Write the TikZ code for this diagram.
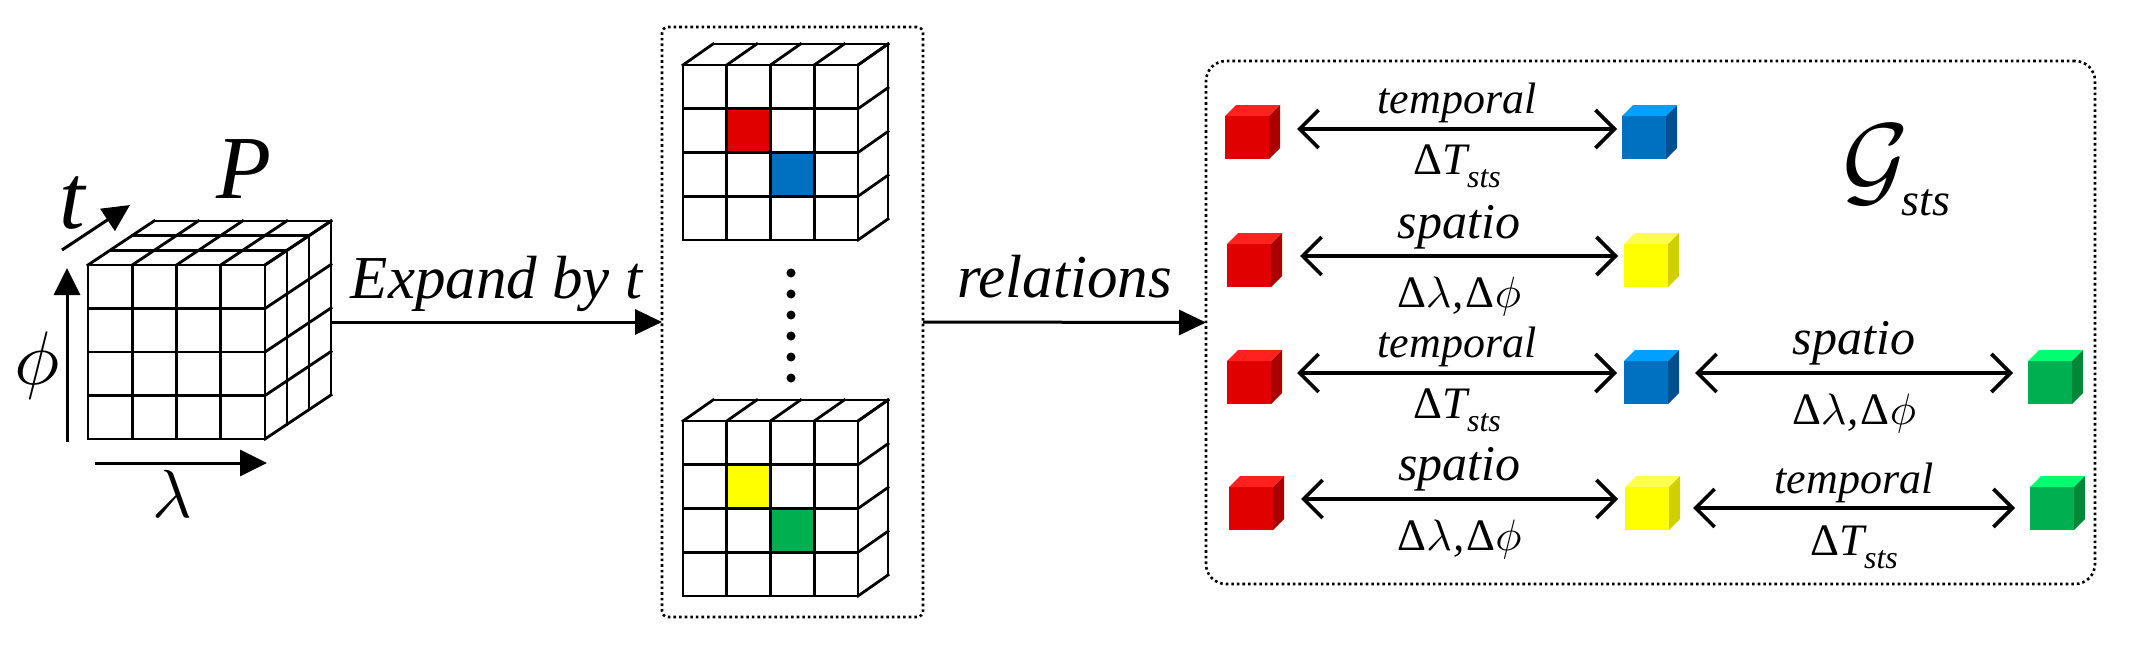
\documentclass[tikz,border=0pt]{standalone}
\usepackage{fontspec}
\setmainfont{Liberation Serif}
\usetikzlibrary{arrows.meta}

\definecolor{redF}{RGB}{224,0,0}
\definecolor{redT}{RGB}{255,32,32}
\definecolor{redS}{RGB}{170,0,0}
\definecolor{bluF}{RGB}{0,112,192}
\definecolor{bluT}{RGB}{0,160,255}
\definecolor{bluS}{RGB}{0,80,144}
\definecolor{yelF}{RGB}{255,255,0}
\definecolor{yelT}{RGB}{255,255,80}
\definecolor{yelS}{RGB}{208,208,0}
\definecolor{grnF}{RGB}{0,176,80}
\definecolor{grnT}{RGB}{0,255,112}
\definecolor{grnS}{RGB}{0,136,56}

\tikzset{
  gridline/.style={line width=2.8pt, line cap=rect},
  panel/.style={draw, line width=2.6pt, dash pattern=on 2.6pt off 3pt, inner sep=0, outer sep=0},
  cubenode/.style={inner sep=0, outer sep=0, minimum width=55pt, minimum height=54pt},
  axarr/.style={line width=3pt, -{Triangle[length=27pt,width=26pt]}},
  bigarr/.style={line width=3pt, -{Triangle[length=27pt,width=25pt]}},
  dbl/.style={line width=3.4pt, {Straight Barb[length=19pt,width=38pt,line width=3.6pt]}-{Straight Barb[length=19pt,width=38pt,line width=3.6pt]}},
  biglab/.style={font=\fontsize{61}{61}\selectfont\itshape, anchor=base, inner sep=0},
  tlab/.style={font=\fontsize{44}{44}\selectfont\itshape, anchor=base, inner sep=0},
  slab/.style={font=\fontsize{50}{50}\selectfont\itshape, anchor=base, inner sep=0},
  dlab/.style={font=\fontsize{45}{45}\selectfont\itshape, anchor=base, inner sep=0},
}

\newcommand\scm[2]{\scalebox{#1}{\fontsize{10}{12}\selectfont$#2$}}

\newcommand\stscube[6]{%
  \fill[#4] (#2,#3) rectangle ++(44,43);
  \fill[#5] (#2,#3) -- ++(11,-11) -- ++(44,0) -- ++(-11,11) -- cycle;
  \fill[#6] (#2+44,#3) -- ++(11,-11) -- ++(0,43) -- ++(-11,11) -- cycle;
  \node[cubenode] (#1) at (#2+27.5,#3+16) {};
}

\newcommand\gridslab[2]{%
  \foreach \i in {0,...,4} {
    \draw[gridline] (#1+\i*43.75,#2) -- ++(0,175);
    \draw[gridline] (#1,#2+\i*43.75) -- ++(175,0);
    \draw[gridline] (#1+\i*43.75,#2) -- ++(30,-21);
    \draw[gridline] (#1+175,#2+\i*43.75) -- ++(30,-21);
  }
  \draw[gridline] (#1+30,#2-21) -- ++(175,0) -- ++(0,175);
}

\newcommand\dT{{\upshape Δ}T\raisebox{-13pt}{\fontsize{32}{32}\selectfont sts}}
\newcommand\dLP{{\upshape Δ}\scm{4.4}{\lambda}\kern1pt,\kern2pt{\upshape Δ}\scm{4.4}{\phi}}

\begin{document}
\begin{tikzpicture}[x=1pt,y=-1pt]
\useasboundingbox (0,0) rectangle (2133,653);

% panels
\node[panel, rounded corners=6pt, minimum width=261pt, minimum height=590pt] (mid) at (792.5,322) {};
\node[panel, rounded corners=20pt, minimum width=889pt, minimum height=523pt] (rgt) at (1650.5,322.5) {};

% left cube
\foreach \i in {0,...,4} {
  \draw[gridline] (88+\i*44.25,265) -- ++(0,174);
  \draw[gridline] (88,265+\i*43.5) -- ++(177,0);
  \draw[gridline] (88+\i*44.25,265) -- ++(66,-44);
  \draw[gridline] (265,265+\i*43.5) -- ++(66,-44);
}
\foreach \k in {1,2,3} {
  \draw[gridline] (88+22*\k,265-14.67*\k) -- ++(177,0);
  \draw[gridline] (265+22*\k,265-14.67*\k) -- ++(0,174);
}
\coordinate (cuberight) at (331,322);

% axes
\coordinate (phiS) at (67,442);
\coordinate (phiE) at (67,268);
\coordinate (lamS) at (95,463);
\coordinate (lamE) at (267,463);
\coordinate (tS) at (62,250);
\coordinate (tE) at (130,205);
\draw[axarr] (phiS) -- (phiE);
\draw[axarr] (lamS) -- (lamE);
\draw[axarr] (tS) -- (tE);
\node[font=\fontsize{90}{90}\selectfont\itshape, anchor=base, inner sep=0] (Plab) at (244,198) {P};
\node[font=\fontsize{92}{92}\selectfont\itshape, anchor=base, inner sep=0] (tlabel) at (72,228) {t};
\node[anchor=base, inner sep=0] (philab) at (37,384) {\scm{7.6}{\phi}};
\node[anchor=base, inner sep=0] (lamlab) at (172,517) {\scm{6.8}{\lambda}};

% middle slabs
\fill[redF] (726.75,108.75) rectangle ++(43.75,43.75);
\fill[bluF] (770.5,152.5) rectangle ++(43.75,43.75);
\gridslab{683}{65}
\fill[yelF] (726.75,464.75) rectangle ++(43.75,43.75);
\fill[grnF] (770.5,508.5) rectangle ++(43.75,43.75);
\gridslab{683}{421}
\foreach \k in {0,...,5} \fill (791,273+21*\k) circle (4.5pt);

% main arrows
\draw[bigarr] (cuberight) -- node[biglab, yshift=24pt] {Expand by t} (mid.west);
\draw[bigarr] (mid.east) -- node[biglab, yshift=25pt] {relations} (rgt.west);

% cubes
\stscube{r1}{1225}{116}{redF}{redT}{redS}
\stscube{b1}{1622}{116}{bluF}{bluT}{bluS}
\stscube{r2}{1227}{244}{redF}{redT}{redS}
\stscube{y2}{1624}{244}{yelF}{yelT}{yelS}
\stscube{r3}{1227}{361}{redF}{redT}{redS}
\stscube{b3}{1624}{361}{bluF}{bluT}{bluS}
\stscube{g3}{2028}{361}{grnF}{grnT}{grnS}
\stscube{r4}{1229}{487}{redF}{redT}{redS}
\stscube{y4}{1625}{487}{yelF}{yelT}{yelS}
\stscube{g4}{2030}{487}{grnF}{grnT}{grnS}

% relation arrows
\draw[dbl] ([xshift=17pt,yshift=3pt]r1.east) -- node[tlab, yshift=16pt] {temporal} node[dlab, yshift=-45pt] {\dT} ([xshift=-5pt,yshift=3pt]b1.west);
\draw[dbl] ([xshift=18pt,yshift=4pt]r2.east) -- node[slab, yshift=18pt] {spatio} node[dlab, yshift=-51pt] {\dLP} ([xshift=-6pt,yshift=4pt]y2.west);
\draw[dbl] ([xshift=15pt,yshift=4pt]r3.east) -- node[tlab, yshift=16pt] {temporal} node[dlab, yshift=-45pt] {\dT} ([xshift=-7pt,yshift=4pt]b3.west);
\draw[dbl] ([xshift=16pt,yshift=4pt]b3.east) -- node[slab, yshift=19pt] {spatio} node[dlab, yshift=-51pt] {\dLP} ([xshift=-15pt,yshift=4pt]g3.west);
\draw[dbl] ([xshift=17pt,yshift=4pt]r4.east) -- node[slab, yshift=19pt] {spatio} node[dlab, yshift=-51pt] {\dLP} ([xshift=-7pt,yshift=4pt]y4.west);
\draw[dbl] ([xshift=13pt,yshift=-5pt]y4.east) -- node[tlab, yshift=15pt] {temporal} node[dlab, yshift=-47pt] {\dT} ([xshift=-15pt,yshift=-5pt]g4.west);

% graph label
\node[anchor=base west, inner sep=0] (Gsts) at (1842,194) {\scm{10.2}{\mathcal{G}}\hspace{-7pt}\raisebox{-21pt}{\fontsize{46}{46}\selectfont\itshape sts}};
\end{tikzpicture}
\end{document}
